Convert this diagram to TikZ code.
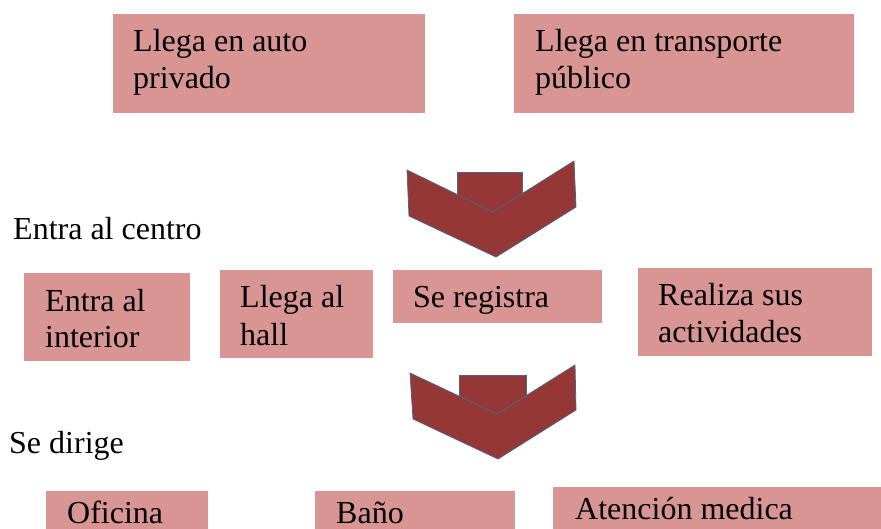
\documentclass[tikz,border=0pt]{standalone}
\usepackage{fontspec}
\setmainfont{Liberation Serif}
\definecolor{boxpink}{HTML}{D99594}
\definecolor{chevred}{HTML}{953735}
\definecolor{chevline}{HTML}{4A6590}
\tikzset{
  px/.style={x=1pt,y=-1pt},
  pinkbox/.style={fill=boxpink, draw=none, inner sep=0pt, anchor=north west},
  txt/.style={anchor=base west, inner sep=0pt, font=\fontsize{32}{36.8}\selectfont, text=black},
  chev/.style={fill=chevred, draw=chevline, line width=0.8pt, line join=miter}
}
\begin{document}
\begin{tikzpicture}[px]
\clip (0,0) rectangle (881,529);
\useasboundingbox (0,0) rectangle (881,529);
\fill[white] (0,0) rectangle (881,529);

% top boxes
\node[pinkbox, minimum width=312pt, minimum height=99pt] (b1) at (113,14) {};
\node[pinkbox, minimum width=340pt, minimum height=99pt] (b2) at (514,14) {};
\node[txt] (t1a) at (133,52) {Llega en auto};
\node[txt] (t1b) at (133,89) {privado};
\node[txt] (t2a) at (535,52) {Llega en transporte};
\node[txt] (t2b) at (535,89) {público};

% chevron 1
\fill[chevred] (457,172) rectangle (522,220);
\draw[chevline, line width=0.8pt] (457,198) -- (457,172) -- (522,172) -- (522,196);
\draw[chev] (407,170) -- (493,212) -- (574,161) -- (576,207) -- (496,257) -- (409,216) -- cycle;

% labels
\node[txt] (l1) at (13,240) {Entra al centro};

% middle boxes
\node[pinkbox, minimum width=166pt, minimum height=88pt] (m1) at (24,273) {};
\node[pinkbox, minimum width=153pt, minimum height=88pt] (m2) at (220,270) {};
\node[pinkbox, minimum width=209pt, minimum height=53pt] (m3) at (393,270) {};
\node[pinkbox, minimum width=234pt, minimum height=88pt] (m4) at (638,268) {};
\node[txt] (tm1a) at (45,312) {Entra al};
\node[txt] (tm1b) at (45,348) {interior};
\node[txt] (tm2a) at (240,308) {Llega al};
\node[txt] (tm2b) at (240,345) {hall};
\node[txt] (tm3a) at (413,308) {Se registra};
\node[txt] (tm4a) at (658,306) {Realiza sus};
\node[txt] (tm4b) at (658,343) {actividades};

% chevron 2
\fill[chevred] (459,375) rectangle (526,422);
\draw[chevline, line width=0.8pt] (459,401) -- (459,375) -- (526,375) -- (526,399);
\draw[chev] (410,373) -- (497,414) -- (575,365) -- (576,410) -- (498,459) -- (413,419) -- cycle;

\node[txt] (l2) at (9,453) {Se dirige};

% bottom boxes
\node[pinkbox, minimum width=162pt, minimum height=60pt] (o1) at (46,491) {};
\node[pinkbox, minimum width=200pt, minimum height=60pt] (o2) at (315,491) {};
\node[pinkbox, minimum width=340pt, minimum height=60pt] (o3) at (553,487) {};
\node[txt] (to1) at (67,523) {Oficina};
\node[txt] (to2) at (336,523) {Baño};
\node[txt] (to3) at (575,519) {Atención medica};
\end{tikzpicture}
\end{document}
